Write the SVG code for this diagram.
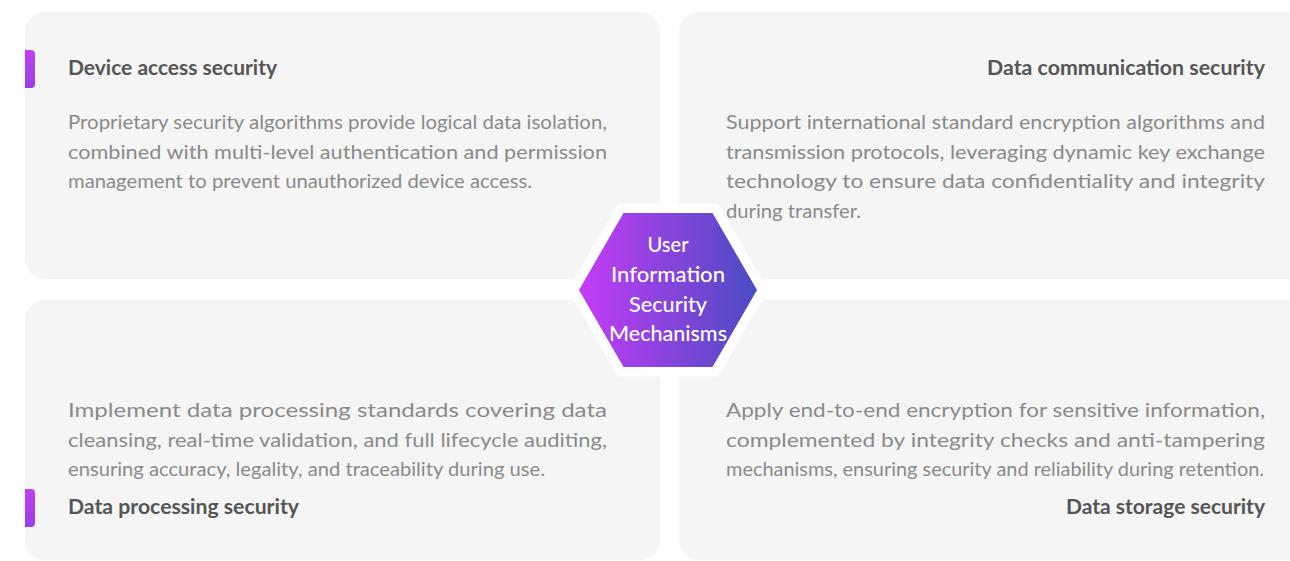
<svg xmlns="http://www.w3.org/2000/svg" width="1290" height="561" viewBox="0 0 1290 561">
<defs>
<linearGradient id="hexGrad" x1="0" y1="0" x2="1" y2="0">
<stop offset="0" stop-color="#c43cf6"/>
<stop offset="1" stop-color="#4a4cc2"/>
</linearGradient>
<linearGradient id="barGrad" x1="0" y1="0" x2="0" y2="1">
<stop offset="0" stop-color="#c040f2"/>
<stop offset="1" stop-color="#9a3ee6"/>
</linearGradient>
<style>
.card{fill:#f5f5f5;}
.title{font-family:"Source Sans Pro",Lato,"Liberation Sans",sans-serif;font-size:20px;font-weight:700;fill:#555555;}
.body{font-family:"Source Sans Pro",Lato,"Liberation Sans",sans-serif;font-size:20px;font-weight:400;fill:#8a8a8a;}
.hex{font-family:"Source Sans Pro",Lato,"Liberation Sans",sans-serif;font-size:21px;font-weight:500;fill:#ffffff;text-anchor:middle;}
.bar{fill:url(#barGrad);}
</style>
</defs>
<rect width="1290" height="561" fill="#ffffff"/>

<g id="node-device-access">
<rect class="card" x="25" y="12" width="635" height="267" rx="20"/>
<path class="bar" d="M25 50 H31 A4 4 0 0 1 35 54 V84 A4 4 0 0 1 31 88 H25 Z"/>
<text class="title" x="68" y="75" textLength="209" lengthAdjust="spacingAndGlyphs">Device access security</text>
<text class="body" x="68" y="129" textLength="539" lengthAdjust="spacingAndGlyphs">Proprietary security algorithms provide logical data isolation,</text>
<text class="body" x="68" y="158.5" textLength="539" lengthAdjust="spacingAndGlyphs">combined with multi-level authentication and permission</text>
<text class="body" x="68" y="188" textLength="464" lengthAdjust="spacingAndGlyphs">management to prevent unauthorized device access.</text>
</g>

<g id="node-data-communication">
<rect class="card" x="679" y="12" width="640" height="267" rx="20"/>
<text class="title" x="1265" y="75" text-anchor="end" textLength="278" lengthAdjust="spacingAndGlyphs">Data communication security</text>
<text class="body" x="726" y="129" textLength="539" lengthAdjust="spacingAndGlyphs">Support international standard encryption algorithms and</text>
<text class="body" x="726" y="158.5" textLength="539" lengthAdjust="spacingAndGlyphs">transmission protocols, leveraging dynamic key exchange</text>
<text class="body" x="726" y="188" textLength="539" lengthAdjust="spacingAndGlyphs">technology to ensure data confidentiality and integrity</text>
<text class="body" x="726" y="217.5" textLength="135" lengthAdjust="spacingAndGlyphs">during transfer.</text>
</g>

<g id="node-data-processing">
<rect class="card" x="25" y="300" width="635" height="260" rx="20"/>
<path class="bar" d="M25 489 H31 A4 4 0 0 1 35 493 V523 A4 4 0 0 1 31 527 H25 Z"/>
<text class="body" x="68" y="417" textLength="539" lengthAdjust="spacingAndGlyphs">Implement data processing standards covering data</text>
<text class="body" x="68" y="446.5" textLength="539" lengthAdjust="spacingAndGlyphs">cleansing, real-time validation, and full lifecycle auditing,</text>
<text class="body" x="68" y="476" textLength="477" lengthAdjust="spacingAndGlyphs">ensuring accuracy, legality, and traceability during use.</text>
<text class="title" x="68" y="514" textLength="231" lengthAdjust="spacingAndGlyphs">Data processing security</text>
</g>

<g id="node-data-storage">
<rect class="card" x="679" y="300" width="640" height="260" rx="20"/>
<text class="body" x="726" y="417" textLength="539" lengthAdjust="spacingAndGlyphs">Apply end-to-end encryption for sensitive information,</text>
<text class="body" x="726" y="446.5" textLength="539" lengthAdjust="spacingAndGlyphs">complemented by integrity checks and anti-tampering</text>
<text class="body" x="726" y="476" textLength="538" lengthAdjust="spacingAndGlyphs">mechanisms, ensuring security and reliability during retention.</text>
<text class="title" x="1265" y="514" text-anchor="end" textLength="199" lengthAdjust="spacingAndGlyphs">Data storage security</text>
</g>

<g id="node-center">
<polygon points="568,290 618,203.4 718,203.4 768,290 718,376.6 618,376.6" fill="#ffffff"/>
<polygon points="579,290 623.5,213 712.5,213 757,290 712.5,367 623.5,367" fill="url(#hexGrad)"/>
<text class="hex" x="668" y="252" textLength="41" lengthAdjust="spacingAndGlyphs">User</text>
<text class="hex" x="668" y="282" textLength="114" lengthAdjust="spacingAndGlyphs">Information</text>
<text class="hex" x="668" y="311.5" textLength="78" lengthAdjust="spacingAndGlyphs">Security</text>
<text class="hex" x="668" y="341" textLength="118" lengthAdjust="spacingAndGlyphs">Mechanisms</text>
</g>

<g id="connectors"/>
</svg>
